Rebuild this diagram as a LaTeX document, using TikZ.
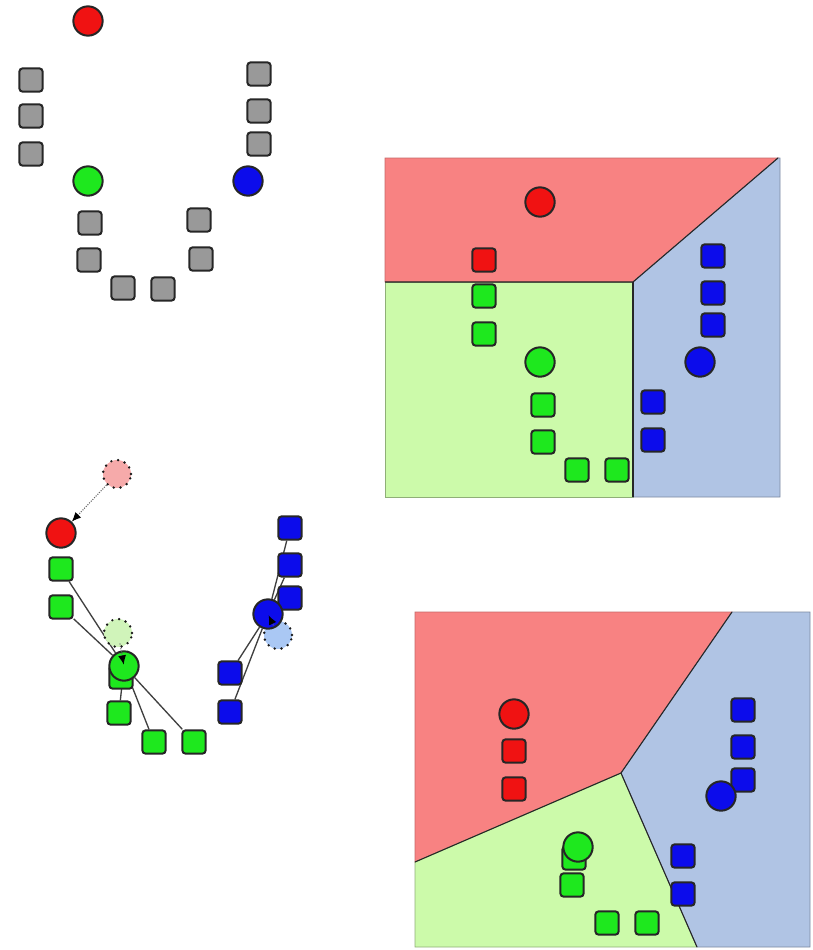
\documentclass[tikz,border=0pt]{standalone}
\usepackage{tikz}
\usetikzlibrary{arrows.meta,backgrounds}
\definecolor{cred}{RGB}{240,18,18}
\definecolor{cgreen}{RGB}{30,232,30}
\definecolor{cblue}{RGB}{12,12,235}
\definecolor{fred}{RGB}{248,130,130}
\definecolor{fgreen}{RGB}{204,250,170}
\definecolor{fblue}{RGB}{176,196,228}
\definecolor{gred}{RGB}{246,170,170}
\definecolor{ggreen}{RGB}{208,244,186}
\definecolor{gblue}{RGB}{170,200,244}

\begin{document}
\begin{tikzpicture}[x=0.75pt, y=-0.75pt,
    centroid/.style={circle, draw=black!85, line width=1.5pt, minimum size=22pt, inner sep=0pt},
    datum/.style={draw=black!85, rounded corners=2.5pt, line width=1.5pt, minimum size=17.5pt, inner sep=0pt},
    ghost/.style={circle, draw=black!90, line width=2pt, line cap=round,
                  dash pattern=on 0pt off 5.2pt, minimum size=21pt, inner sep=0pt},
    link/.style={draw=black!75, line width=1pt},
    move/.style={draw=black!60, line width=0.8pt, densely dotted,
                 -{Latex[length=7pt, width=6pt, black]}},
    border/.style={draw=black!85, line width=0.8pt},
  ]
    \useasboundingbox (0,0) rectangle (813,950);

    % (a) random start: three centroids, grey points
    \node[centroid, fill=cred] (a-r) at (88,21) {};
    \node[centroid, fill=cgreen] (a-g) at (88,181) {};
    \node[centroid, fill=cblue] (a-b) at (248,181) {};
    \foreach \x/\y [count=\i] in {31/80, 31/116, 31/154, 259/74, 259/111, 259/144,
                                  90/223, 89/260, 123/288, 163/289, 199/220, 201/259}
      \node[datum, fill=gray!80] (a\i) at (\x,\y) {};

    % (b) first assignment
    \coordinate (b-nw) at (385,158);
    \coordinate (b-ne) at (780,158);
    \coordinate (b-se) at (780,497);
    \coordinate (b-sw) at (385,497);
    \coordinate (b-j) at (633,282);
    \coordinate (b-w) at (385,282);
    \coordinate (b-t) at (778,158);
    \coordinate (b-s) at (633,497);
    \fill[fred, draw=fred!80!black, line width=0.6pt] (b-nw) -- (b-t) -- (b-j) -- (b-w) -- cycle;
    \fill[fgreen, draw=fgreen!70!black, line width=0.6pt] (b-w) -- (b-j) -- (b-s) -- (b-sw) -- cycle;
    \fill[fblue, draw=fblue!70!black, line width=0.6pt] (b-t) -- (b-ne) -- (b-se) -- (b-s) -- (b-j) -- cycle;
    \draw[border] (b-w) -- (b-j) -- (b-t);
    \draw[border] (b-j) -- (b-s);

    \node[centroid, fill=cred] (b-r) at (540,202) {};
    \node[centroid, fill=cgreen] (b-g) at (540,362) {};
    \node[centroid, fill=cblue] (b-b) at (700,362) {};
    \node[datum, fill=cred] (b1) at (484,260) {};
    \foreach \x/\y [count=\i from 2] in {484/296, 484/334, 543/405, 543/442, 577/470, 617/470}
      \node[datum, fill=cgreen] (b\i) at (\x,\y) {};
    \foreach \x/\y [count=\i from 8] in {713/256, 713/293, 713/325, 653/402, 653/440}
      \node[datum, fill=cblue] (b\i) at (\x,\y) {};

    % (c) centroids move to the means
    \node[ghost, fill=gred] (c-or) at (117,474) {};
    \node[ghost, fill=ggreen] (c-og) at (118,633) {};
    \node[ghost, fill=gblue] (c-ob) at (278,635) {};
    \node[datum, fill=cgreen] (c0) at (121,677) {};
    \node[centroid, fill=cred] (c-r) at (61,533) {};
    \node[centroid, fill=cgreen] (c-g) at (124,666) {};
    \foreach \x/\y [count=\i] in {61/569, 61/607, 119/713, 154/742, 194/742}
      \node[datum, fill=cgreen] (c\i) at (\x,\y) {};
    \foreach \x/\y [count=\i from 6] in {290/528, 290/565, 290/598, 230/673, 230/712}
      \node[datum, fill=cblue] (c\i) at (\x,\y) {};
    \node[centroid, fill=cblue] (c-b) at (268,614) {};

    \begin{scope}[on background layer]
      \foreach \i in {0,...,5} \draw[link] (c-g) -- (c\i);
      \foreach \i in {6,...,10} \draw[link] (c-b) -- (c\i);
    \end{scope}
    \draw[move] (c-or) -- (c-r);
    \draw[move, shorten <=8pt, shorten >=1pt] (c-og.center) -- (c-g.center);
    \draw[move, shorten <=8pt, shorten >=1pt] (c-ob.center) -- (c-b.center);

    % (d) reassignment
    \coordinate (d-nw) at (415,612);
    \coordinate (d-ne) at (810,612);
    \coordinate (d-se) at (810,947);
    \coordinate (d-sw) at (415,947);
    \coordinate (d-j) at (621,773);
    \coordinate (d-t) at (732,612);
    \coordinate (d-w) at (415,862);
    \coordinate (d-s) at (697,947);
    \fill[fred, draw=fred!80!black, line width=0.6pt] (d-nw) -- (d-t) -- (d-j) -- (d-w) -- cycle;
    \fill[fgreen, draw=fgreen!70!black, line width=0.6pt] (d-w) -- (d-j) -- (d-s) -- (d-sw) -- cycle;
    \fill[fblue, draw=fblue!70!black, line width=0.6pt] (d-t) -- (d-ne) -- (d-se) -- (d-s) -- (d-j) -- cycle;
    \draw[border] (d-w) -- (d-j) -- (d-t);
    \draw[border] (d-j) -- (d-s);

    \foreach \x/\y [count=\i] in {514/751, 514/789}
      \node[datum, fill=cred] (d\i) at (\x,\y) {};
    \foreach \x/\y [count=\i from 3] in {574/858, 572/885, 607/923, 647/923}
      \node[datum, fill=cgreen] (d\i) at (\x,\y) {};
    \foreach \x/\y [count=\i from 7] in {743/710, 743/747, 743/780, 683/856, 683/894}
      \node[datum, fill=cblue] (d\i) at (\x,\y) {};
    \node[centroid, fill=cred] (d-r) at (514,714) {};
    \node[centroid, fill=cgreen] (d-g) at (578,847) {};
    \node[centroid, fill=cblue] (d-b) at (721,796) {};
\end{tikzpicture}
\end{document}
